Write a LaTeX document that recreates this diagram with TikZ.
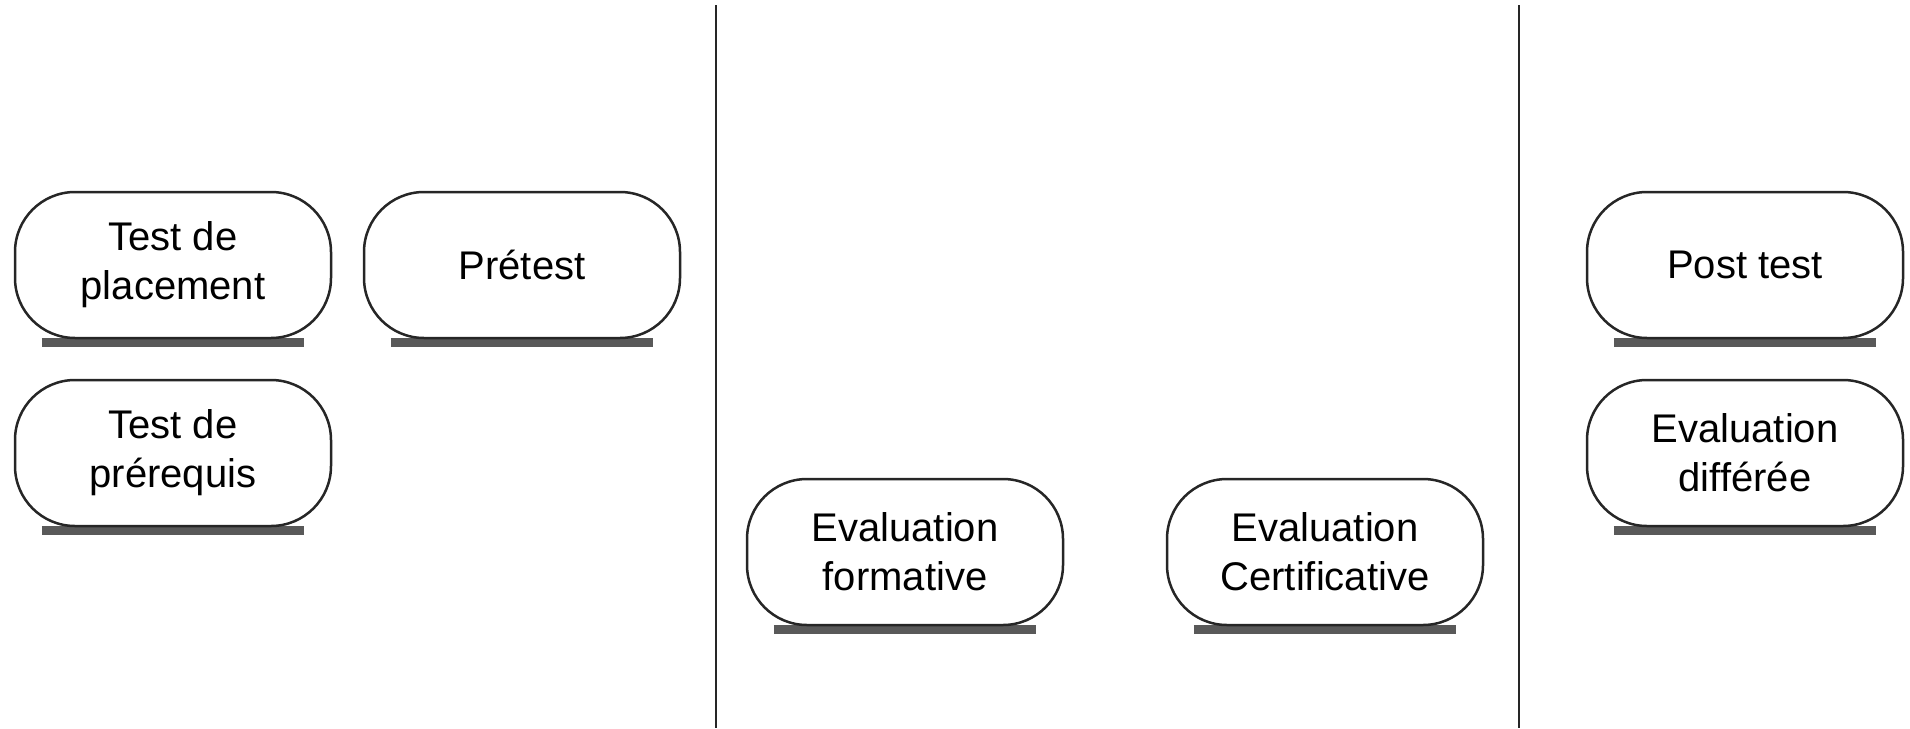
\documentclass[tikz,border=0pt]{standalone}
\usepackage{fontspec}
\setmainfont{Liberation Sans}
\usetikzlibrary{backgrounds}
\begin{document}
\begin{tikzpicture}[x=1pt,y=-1pt,
  pill/.style={draw=black!85, line width=2.5pt, fill=white, rounded corners=60pt,
    minimum width=316pt, minimum height=146pt, align=center, inner sep=0pt,
    font=\fontsize{40}{49}\selectfont},
  shade/.style={draw=black!65, line width=9pt},
  divider/.style={draw=black!85, line width=2.5pt}]
\useasboundingbox (0,0) rectangle (1910,728);
\node[pill] (plac) at (173,265) {Test de\\placement};
\node[pill] (pret) at (522,265) {Prétest};
\node[pill] (prer) at (173,453) {Test de\\prérequis};
\node[pill] (form) at (905,552) {Evaluation\\formative};
\node[pill] (cert) at (1325,552) {Evaluation\\Certificative};
\node[pill] (post) at (1745,265) {Post test};
\node[pill] (diff) at (1745,453) {Evaluation\\différée};
\coordinate (l1t) at (716,5);
\coordinate (l1b) at (716,728);
\coordinate (l2t) at (1519,5);
\coordinate (l2b) at (1519,728);
\draw[divider] (l1t) -- (l1b);
\draw[divider] (l2t) -- (l2b);
\begin{pgfonlayer}{background}
\foreach \n in {plac,pret,prer,form,cert,post,diff}{
  \draw[shade] ([xshift=28pt,yshift=-3pt]\n.south west) -- ([xshift=-28pt,yshift=-3pt]\n.south east);
}
\end{pgfonlayer}
\end{tikzpicture}
\end{document}
